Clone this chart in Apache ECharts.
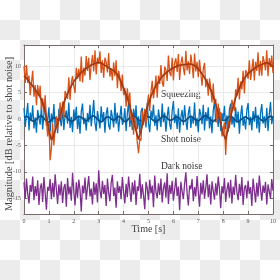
<!DOCTYPE html>
<html><head><meta charset="utf-8">
<script src="https://cdn.jsdelivr.net/npm/echarts@6/dist/echarts.min.js"></script>
<style>
html,body{margin:0;padding:0;}
body{width:280px;height:280px;background:#fff repeating-conic-gradient(#ececec 0 25%, #ffffff 0 50%) 0 0/40px 40px;}
#c{width:280px;height:280px;}
</style></head>
<body><div id="c"></div>
<script>
// sample spacing (s)
const noiseStep = 0.05;
const meanStep = 0.1;
const xTicks = [0,1,2,3,4,5,6,7,8,9,10];
const yTicks = [-15,-10,-5,0,5,10];

const squeezingRaw = [
10.0,6.8,10.2,6.8,8.2,4.5,6.9,9.1,4.2,6.4,
2.6,6.4,4.3,6.3,1.7,3.9,1.3,4.5,-0.3,-3.3,
-0.7,-7.8,-5.6,-0.8,-5.0,-1.7,0.4,-2.1,-0.3,3.1,
-0.3,3.3,0.2,5.3,4.6,3.8,7.9,3.6,6.9,8.1,
6.2,4.9,9.7,7.6,9.5,7.1,11.8,6.9,9.7,8.2,
11.9,9.1,11.6,7.4,10.3,12.1,9.0,13.0,8.4,11.6,
10.4,12.8,8.7,11.1,7.8,11.6,10.8,8.8,12.5,8.0,
9.6,7.3,10.7,8.1,11.1,5.8,9.1,7.9,5.3,8.4,
4.5,5.9,2.3,5.8,3.1,5.0,-0.3,1.0,-3.0,0.3,
-1.2,-4.5,-6.5,-3.7,-4.1,1.5,-1.2,1.9,-0.9,2.7,
4.6,1.5,5.2,7.2,3.9,5.5,8.2,4.0,8.2,6.6,
10.2,7.0,6.1,9.9,9.3,7.2,12.0,8.8,8.1,11.6,
7.3,10.6,11.5,8.9,12.3,7.4,10.5,11.8,9.6,8.3,
12.9,9.2,10.9,8.5,12.2,10.4,7.7,12.4,9.0,10.8,
7.9,11.2,8.7,6.3,9.5,10.6,6.0,7.6,4.4,7.7,
5.9,3.1,6.7,2.9,3.8,-0.7,2.9,-0.2,1.3,-3.3,
-3.4,-0.7,-6.8,-2.0,-0.4,-1.8,-2.0,3.6,2.6,1.5,
5.6,4.3,7.8,3.7,7.1,5.6,9.1,4.8,9.2,8.8,
7.6,11.1,7.4,9.3,11.4,7.3,10.8,9.1,12.6,8.2,
11.0,8.2,11.9,10.8,9.2,13.0,8.1,11.5,9.8,12.0,
8.7
];
const squeezingMean = [
8.2,7.7,7.1,6.5,5.9,5.2,4.6,3.6,2.4,0.2,
-2.0,-4.0,-3.0,-1.5,-0.1,1.5,3.1,4.3,5.3,6.2,
7.1,7.7,8.3,8.8,9.2,9.6,9.9,10.2,10.4,10.6,
10.7,10.6,10.3,10.0,9.7,9.4,9.1,8.7,8.0,7.0,
5.8,4.6,3.2,1.5,-0.2,-2.2,-3.9,-2.2,-0.3,1.5,
2.9,4.3,5.4,6.3,7.0,7.7,8.3,8.7,9.1,9.4,
9.7,9.9,10.1,10.2,10.3,10.3,10.4,10.4,10.2,9.9,
9.5,8.9,8.2,7.4,6.5,5.5,4.3,2.8,1.0,-0.8,
-2.8,-3.9,-1.8,0.4,2.4,4.0,5.3,6.4,7.3,8.0,
8.6,9.0,9.4,9.7,10.0,10.2,10.4,10.6,10.6,10.3,
9.9
];
const shotRaw = [
2.1,-1.5,0.8,3.0,-2.2,1.2,-0.4,2.6,-1.8,0.3,
-2.6,1.7,0.2,-1.1,2.4,-2.0,0.9,3.3,-1.3,-0.2,
2.2,-2.4,1.0,-0.7,2.8,-1.6,0.5,-2.7,1.9,0.1,
-1.4,2.5,-2.1,0.7,1.6,-0.9,3.1,-1.7,0.4,-2.5,
1.8,-0.3,2.3,-1.9,0.6,-2.8,1.4,2.9,-1.0,0.2,
-2.2,1.1,-0.6,2.7,-1.4,0.8,3.6,-0.8,-2.3,1.5,
0.0,-1.8,2.4,-0.5,1.3,-2.6,0.9,2.2,-1.2,-2.0,
1.7,0.4,-1.6,3.0,-0.9,1.2,-2.4,0.3,2.5,-1.1,
-0.4,2.0,-2.3,1.0,3.2,-1.5,0.6,-2.1,1.9,-0.2,
2.6,-1.9,0.5,-2.7,1.4,2.1,-0.7,1.0,-1.6,3.0,
-0.9,-2.5,1.6,0.2,2.7,-1.3,0.7,-2.2,1.8,0.0,
-1.5,2.9,-0.6,1.2,-2.4,0.4,2.3,-1.0,-2.0,1.5,
3.4,-0.8,0.9,-1.9,2.0,-2.6,0.3,1.7,-1.2,2.6,
-0.3,-2.1,1.1,2.4,-1.7,0.6,-0.9,3.1,-1.4,0.2,
-2.5,1.9,0.8,-1.0,2.7,-2.2,1.3,-0.4,2.2,-1.8,
0.5,-2.7,1.6,3.3,-0.6,0.9,-1.5,2.0,-2.3,1.1,
-0.1,2.5,-1.9,0.7,-2.4,1.8,2.9,-1.1,0.3,-1.6,
2.2,-0.7,1.4,-2.8,0.6,2.6,-1.3,0.1,-2.0,1.7,
3.0,-1.2,0.4,-2.2,1.5,-0.5,2.3,-1.8,0.8,-2.6,
1.2,2.8,-0.9,0.5,-1.7,2.1,-2.3,0.9,3.2,-1.0,
0.6
];
const shotMean = [
0.3,0.5,0.2,-0.3,-0.5,-0.1,0.4,0.6,0.1,-0.4,
-0.6,-0.2,0.3,0.1,-0.3,0.2,0.7,0.4,-0.2,-0.5,
-0.3,0.2,0.5,0.3,-0.1,-0.4,0.0,0.5,0.6,0.2,
-0.3,-0.6,-0.2,0.3,0.4,0.0,-0.3,0.1,0.5,0.2,
-0.4,-0.5,0.0,0.4,0.6,0.3,-0.2,-0.4,-0.1,0.3,
0.5,0.1,-0.3,-0.6,-0.2,0.2,0.6,0.4,-0.1,-0.3,
0.0,0.4,0.3,-0.2,-0.5,-0.3,0.2,0.5,0.2,-0.2,
-0.4,0.0,0.4,0.7,0.3,-0.2,-0.5,-0.1,0.3,0.1,
-0.3,-0.2,0.3,0.6,0.2,-0.3,-0.6,-0.2,0.2,0.4,
0.1,-0.2,0.1,0.5,0.3,-0.1,-0.4,-0.2,0.3,0.5,
0.2
];
const darkRaw = [
-12.0,-15.1,-11.3,-14.2,-16.0,-12.5,-13.8,-10.9,-15.4,-12.7,
-14.6,-11.6,-16.3,-13.1,-12.2,-15.7,-11.0,-14.0,-17.2,-12.9,
-13.6,-11.4,-15.2,-12.1,-14.8,-10.5,-13.3,-16.1,-12.4,-14.5,
-11.8,-15.9,-13.0,-12.3,-16.6,-11.2,-14.3,-12.8,-15.5,-10.2,
-13.7,-16.4,-12.0,-14.9,-11.5,-13.4,-17.5,-12.6,-14.1,-11.1,
-15.3,-12.9,-10.8,-14.7,-13.2,-16.2,-11.9,-14.4,-12.2,-15.8,
-9.7,-13.5,-15.0,-11.7,-14.2,-12.5,-16.5,-11.3,-13.9,-15.6,
-12.1,-10.6,-14.6,-13.0,-16.8,-11.8,-14.0,-12.7,-15.2,-11.0,
-13.8,-16.0,-12.3,-14.8,-10.9,-13.5,-15.7,-12.0,-14.3,-11.6,
-16.3,-12.8,-13.6,-10.4,-15.1,-12.4,-14.5,-17.1,-11.9,-13.2,
-15.4,-11.5,-14.1,-12.6,-16.7,-10.7,-13.9,-15.0,-12.2,-14.4,
-11.3,-15.8,-13.1,-12.0,-14.9,-10.3,-16.1,-12.5,-14.2,-11.7,
-15.5,-13.4,-11.1,-14.6,-12.8,-17.3,-11.9,-13.7,-15.2,-12.3,
-10.1,-14.0,-16.4,-12.6,-13.3,-11.4,-15.6,-12.9,-14.7,-10.8,
-13.9,-16.6,-12.1,-14.3,-11.6,-15.1,-13.0,-10.5,-14.8,-12.4,
-16.2,-11.8,-13.6,-15.3,-12.2,-14.5,-10.9,-13.2,-16.9,-12.7,
-14.1,-11.2,-15.7,-13.4,-12.0,-14.9,-11.5,-16.0,-12.8,-14.4,
-10.6,-13.8,-15.4,-12.3,-14.6,-11.0,-16.3,-13.1,-12.5,-15.0,
-11.7,-14.2,-12.9,-16.5,-11.3,-13.5,-15.8,-12.1,-14.7,-10.7,
-13.3,-15.5,-12.6,-14.0,-11.9,-16.2,-12.4,-13.7,-15.1,-11.4,
-13.6
];
const labels = ['Squeezing','Shot noise','Dark noise'];
const xName = 'Time [s]';
const yName = 'Magnitude [dB relative to shot noise]';

function pairs(arr, step){ return arr.map((v,i)=>[+(i*step).toFixed(3), v]); }

const font = "'Liberation Serif', 'DejaVu Serif', serif";
const frame = '#7a6b6b';
const chart = echarts.init(document.getElementById('c'), null, {renderer:'canvas'});
const lineS = (name, data, color, w) => ({
  name, type:'line', data, symbol:'none', silent:true,
  lineStyle:{color, width:w}, itemStyle:{color}, z:2
});
chart.setOption({
  animation:false,
  grid:{left:24, right:7, top:45, bottom:66, show:true, backgroundColor:'#ffffff', borderWidth:0,
        containLabel:false, outerBoundsMode:'none'},
  xAxis:[{
    type:'value', min:0, max:10, interval:1,
    name:xName, nameLocation:'middle', nameGap:10, nameMoveOverlap:false,
    nameTextStyle:{fontFamily:font, fontSize:10, color:'#444'},
    axisLine:{show:true, onZero:false, lineStyle:{color:frame, width:1}},
    axisTick:{show:true, inside:true, length:3, lineStyle:{color:frame}},
    axisLabel:{fontFamily:font, fontSize:6, color:'#555', margin:4},
    splitLine:{show:true, lineStyle:{color:'#e4e4e4', width:0.8}}
  },{
    type:'value', min:0, max:10, interval:1, position:'top',
    axisLine:{show:true, onZero:false, lineStyle:{color:frame, width:1}},
    axisTick:{show:true, inside:true, length:3, lineStyle:{color:frame}},
    axisLabel:{show:false}, splitLine:{show:false}
  }],
  yAxis:[{
    type:'value', min:-18, max:14,
    axisLine:{show:true, onZero:false, lineStyle:{color:frame, width:1}},
    axisTick:{show:true, inside:true, length:3, lineStyle:{color:frame}},
    axisLabel:{fontFamily:font, fontSize:6, color:'#555', margin:3,
      formatter:v=> yTicks.indexOf(v) >= 0 ? String(v) : ''},
    splitLine:{show:true, lineStyle:{color:'#e4e4e4', width:0.8}}
  },{
    type:'value', min:-18, max:14, position:'right',
    axisLine:{show:true, onZero:false, lineStyle:{color:frame, width:1}},
    axisTick:{show:true, inside:true, length:3, lineStyle:{color:frame}},
    axisLabel:{show:false}, splitLine:{show:false}
  }],
  series:[
    lineS('dark', pairs(darkRaw, noiseStep), '#7e2f8e', 1.3),
    lineS('shot', pairs(shotRaw, noiseStep), '#0072bd', 1.3),
    lineS('shotMean', pairs(shotMean, meanStep), '#0a4f86', 1.7),
    lineS('sq', pairs(squeezingRaw, noiseStep), '#d95319', 1.3),
    lineS('sqMean', pairs(squeezingMean, meanStep), '#9e3a15', 1.7)
  ],
  graphic:[
    {type:'text', x:9, y:134, rotation:Math.PI/2, silent:true,
     style:{text:yName, font:"10.3px "+font, fill:'#444', align:'center', verticalAlign:'middle'}},
    {type:'text', left:161, top:89, silent:true, style:{text:labels[0], font:"9.5px "+font, fill:'#333'}},
    {type:'text', left:161, top:134, silent:true, style:{text:labels[1], font:"9.5px "+font, fill:'#333'}},
    {type:'text', left:161, top:161, silent:true, style:{text:labels[2], font:"9.5px "+font, fill:'#333'}}
  ]
});
</script></body></html>
